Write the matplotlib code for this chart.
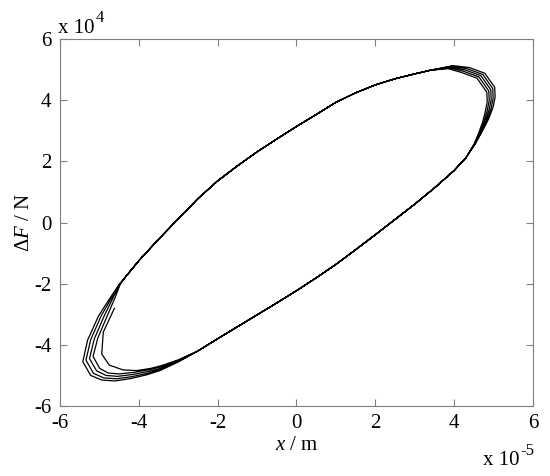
import matplotlib
matplotlib.use('Agg')
import matplotlib.pyplot as plt

plt.rcParams['font.family'] = 'Liberation Serif'
plt.rcParams['axes.unicode_minus'] = False
plt.rcParams['mathtext.fontset'] = 'custom'
plt.rcParams['mathtext.rm'] = 'Liberation Serif'
plt.rcParams['mathtext.it'] = 'Liberation Serif:italic'

# x in 1e-5 m, dF in 1e4 N

# first, partial pass at the lower-left end
start_x = [-4.62, -4.90, -4.94, -4.75, -4.40, -4.05, -3.70, -3.40, -3.00]
start_y = [-2.81, -3.58, -4.30, -4.66, -4.82, -4.84, -4.77, -4.67, -4.49]

# lower branch (all cycles overlap), left -> right
lower_x = [-2.5, -2.0, -1.5, -1.0, -0.5, 0.0, 0.5, 1.0, 1.5, 2.0, 2.5, 3.0, 3.5, 4.0, 4.3]
lower_y = [-4.2, -3.80, -3.41, -3.02, -2.63, -2.23, -1.81, -1.37, -0.89, -0.40, 0.10, 0.60, 1.13, 1.70, 2.12]

# upper branch (all cycles overlap), right -> left
upper_x = [3.4, 3.0, 2.5, 2.0, 1.5, 1.0, 0.5, 0.0, -0.5, -1.0, -1.5, -2.0, -2.5, -3.0, -3.5, -4.0, -4.3]
upper_y = [4.98, 4.86, 4.70, 4.50, 4.24, 3.93, 3.53, 3.14, 2.73, 2.31, 1.85, 1.36, 0.78, 0.12, -0.55, -1.25, -1.72]

# upper-right tips, outermost first
ur_x = [[4.55, 4.72, 4.88, 4.99, 5.04, 5.03, 4.78, 4.38, 3.97],
        [4.54, 4.70, 4.84, 4.94, 4.99, 4.98, 4.73, 4.33, 3.94],
        [4.53, 4.67, 4.80, 4.89, 4.94, 4.93, 4.68, 4.28, 3.91],
        [4.52, 4.65, 4.76, 4.84, 4.89, 4.88, 4.63, 4.23, 3.88],
        [4.51, 4.62, 4.72, 4.79, 4.84, 4.83, 4.58, 4.18, 3.85]]
ur_y = [[2.60, 3.00, 3.40, 3.78, 4.10, 4.42, 4.88, 5.07, 5.13],
        [2.59, 2.98, 3.37, 3.74, 4.06, 4.38, 4.84, 5.03, 5.11],
        [2.58, 2.96, 3.34, 3.70, 4.02, 4.34, 4.80, 4.99, 5.08],
        [2.58, 2.94, 3.30, 3.66, 3.98, 4.30, 4.76, 4.95, 5.06],
        [2.57, 2.92, 3.27, 3.62, 3.94, 4.26, 4.72, 4.91, 5.03]]

# lower-left tips, outermost first
ll_x = [[-4.50, -4.72, -5.02, -5.30, -5.42, -5.22, -4.94, -4.60, -4.20, -3.80, -3.46, -3.00],
        [-4.49, -4.68, -4.95, -5.22, -5.34, -5.15, -4.89, -4.57, -4.18, -3.78, -3.45, -3.00],
        [-4.48, -4.64, -4.87, -5.13, -5.25, -5.07, -4.83, -4.54, -4.16, -3.76, -3.44, -3.00],
        [-4.47, -4.59, -4.79, -5.04, -5.16, -4.99, -4.78, -4.50, -4.13, -3.73, -3.43, -3.00]]
ll_y = [[-2.03, -2.45, -3.05, -3.85, -4.55, -5.00, -5.15, -5.18, -5.10, -4.98, -4.84, -4.56],
        [-2.02, -2.44, -3.04, -3.83, -4.50, -4.93, -5.08, -5.11, -5.04, -4.93, -4.80, -4.54],
        [-2.02, -2.43, -3.03, -3.81, -4.45, -4.85, -5.00, -5.03, -4.97, -4.87, -4.77, -4.53],
        [-2.01, -2.42, -3.02, -3.78, -4.38, -4.77, -4.92, -4.95, -4.90, -4.81, -4.72, -4.51]]

ticks = [-6, -4, -2, 0, 2, 4, 6]

# chain the cycles: start, then growing loops
xs = list(start_x)
ys = list(start_y)
for k in [4, 3, 2, 1, 0]:
    xs += lower_x + ur_x[k] + upper_x
    ys += lower_y + ur_y[k] + upper_y
    if k > 0:
        xs += ll_x[k - 1]
        ys += ll_y[k - 1]

fig = plt.figure(figsize=(5.5, 4.76), dpi=100)
ax = fig.add_axes([0.109, 0.147, 0.86, 0.771])
ax.plot(xs, ys, color='black', linewidth=0.9)

ax.set_xlim(-6, 6)
ax.set_ylim(-6, 6)
ax.set_xticks(ticks)
ax.set_yticks(ticks)
ax.tick_params(direction='in', length=5, width=0.8, color='#808080',
               labelsize=15, top=True, right=True, pad=6)
for s in ax.spines.values():
    s.set_color('#808080')
    s.set_linewidth(0.8)

ax.set_xlabel(r'$\mathit{x}$ / m', fontsize=15, labelpad=2)
ax.set_ylabel(u'\u0394$\\mathit{F}$ / N', fontsize=15, labelpad=0)

# MATLAB-style exponent labels
t1 = fig.text(0.105, 0.931, 'x 10', fontsize=15, ha='left', va='baseline')
ax.annotate('4', xy=(1, 0.6), xycoords=t1, xytext=(1, 0), textcoords='offset points',
            fontsize=12, ha='left', va='bottom', annotation_clip=False)
t2 = fig.text(0.944, 0.023, 'x 10', fontsize=15, ha='right', va='baseline')
ax.annotate('-5', xy=(1, 0.6), xycoords=t2, xytext=(1, 0), textcoords='offset points',
            fontsize=12, ha='left', va='bottom', annotation_clip=False)

fig.savefig('out.png', dpi=100)
